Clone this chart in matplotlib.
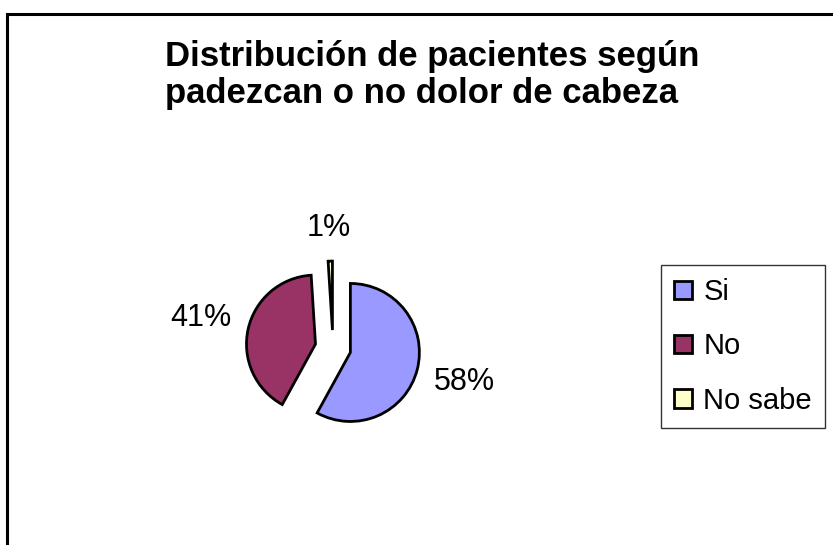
import matplotlib
matplotlib.use('Agg')
import matplotlib.pyplot as plt
from matplotlib.patches import Rectangle
import numpy as np

plt.rcParams['font.family'] = ['Liberation Sans', 'DejaVu Sans']

categories = ['Si', 'No', 'No sabe']
values = [58, 41, 1]
pct_labels = ['58%', '41%', '1%']
colors = ['#9999FF', '#993366', '#FFFFCC']
title_lines = ['Distribución de pacientes según', 'padezcan o no dolor de cabeza']

W, H = 833, 545
fig = plt.figure(figsize=(W / 100, H / 100), dpi=100)

# outer chart frame (clipped at right/bottom like the reference)
frame = Rectangle((7 / W, -0.2), 2.0, 1.2 - 13.5 / H, transform=fig.transFigure,
                  fill=False, edgecolor='black', linewidth=2.2)
fig.add_artist(frame)

R = 69
cx, cy = 333, 348
lim = 1.5
size = 2 * lim * R
ax = fig.add_axes([(cx - size / 2) / W, (H - cy - size / 2) / H, size / W, size / H])
explode = [0.26] * len(values)
wedges, _ = ax.pie(values, colors=colors, explode=explode, startangle=90,
                   counterclock=False, radius=1,
                   wedgeprops=dict(edgecolor='black', linewidth=2))
ax.set_xlim(-lim, lim)
ax.set_ylim(-lim, lim)
ax.set_aspect('equal')
ax.axis('off')

for w, lab in zip(wedges, pct_labels):
    tm = np.deg2rad((w.theta1 + w.theta2) / 2)
    c, s = np.cos(tm), np.sin(tm)
    d = 1.22 + 0.44 * abs(c) + 0.25 * abs(s)
    x0, y0 = w.center
    ax.text(x0 + d * c, y0 + d * s, lab, ha='center', va='center',
            fontsize=22, clip_on=False)

for i, line in enumerate(title_lines):
    fig.text(165 / W, 1 - (66 + 37.5 * i) / H, line, ha='left', va='baseline',
             fontsize=25, fontweight='bold')

leg = fig.legend(wedges, categories, loc='upper left',
                 bbox_to_anchor=(661 / W, 1 - 265 / H), frameon=True,
                 fancybox=False, edgecolor='black', fontsize=21,
                 handlelength=0.6, handleheight=0.6, handletextpad=0.4,
                 borderpad=0.45, labelspacing=0.9, borderaxespad=0)
leg.get_frame().set_linewidth(1)

fig.savefig('out.png', dpi=100)
